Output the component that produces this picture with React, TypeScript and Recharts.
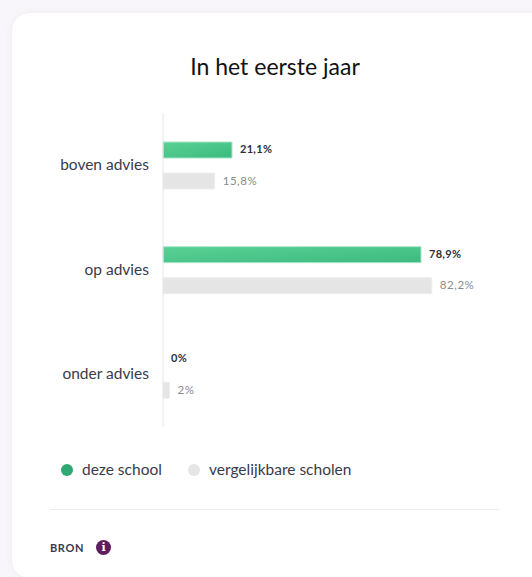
import React from "react";
import { BarChart, Bar, Cell, XAxis, YAxis, LabelList, Legend } from "recharts";

const categories = ["boven advies", "op advies", "onder advies"];
const dezeSchool = [21.1, 78.9, 0];
const vergelijkbareScholen = [15.8, 82.2, 2];
const seriesNames = ["deze school", "vergelijkbare scholen"];
const legendColors = ["#2fa971", "#e5e5e5"];
const title = "In het eerste jaar";
const sourceLabel = "BRON";

const data = categories.map((name, i) => ({
  name,
  school: dezeSchool[i],
  similar: vergelijkbareScholen[i],
}));

const FONT = "Lato, 'Open Sans', sans-serif";
const fmt = (v: number) => String(v).replace(".", ",") + "%";

const LegendContent = () => (
  <div style={{ position: "relative", width: 532, height: 24, fontFamily: FONT, fontSize: 15.5, color: "#3a3a4a" }}>
    {seriesNames.map((n, i) => (
      <React.Fragment key={n}>
        <span style={{ position: "absolute", left: i === 0 ? 61 : 188, top: 6, width: 12, height: 12, borderRadius: 6, background: legendColors[i] }} />
        <span style={{ position: "absolute", left: i === 0 ? 82 : 209, top: 1, lineHeight: "20px", whiteSpace: "nowrap" }}>{n}</span>
      </React.Fragment>
    ))}
  </div>
);

const makeLabel = (color: string, weight: number, size: number, spacing: number, dy: number) => (props: any) => {
  const { x, y, width, height, value } = props;
  return (
    <text x={x + width + 8} y={y + height / 2 + dy} fill={color} fontSize={size} fontWeight={weight} fontFamily={FONT} letterSpacing={spacing} dominantBaseline="central">
      {fmt(value)}
    </text>
  );
};

export default function App() {
  return (
    <div style={{ position: "absolute", left: 0, top: 0, width: 532, height: 577, overflow: "hidden", background: "#f8f6fa" }}>
      <div style={{ position: "absolute", left: 12, top: 13, width: 560, height: 565, background: "#fff", borderRadius: 18, boxShadow: "0 0 8px rgba(90,60,110,0.06)" }} />
      <div style={{ position: "absolute", left: 0, top: 52, width: 550, textAlign: "center", fontFamily: FONT, fontSize: 23, lineHeight: "28px", color: "#111" }}>{title}</div>
      <div style={{ position: "absolute", left: 50, top: 509, width: 449, height: 1, background: "#eeeaf0" }} />
      <div style={{ position: "absolute", left: 50, top: 540, fontFamily: FONT, fontSize: 11, fontWeight: 700, letterSpacing: 0.6, lineHeight: "16px", color: "#3a3a4a" }}>{sourceLabel}</div>
      <div style={{ position: "absolute", left: 96, top: 540, width: 15, height: 15, borderRadius: 8, background: "#5f1d5f", color: "#fff", fontFamily: "'DejaVu Serif', serif", fontWeight: 700, fontSize: 11, lineHeight: "15px", textAlign: "center" }}>i</div>
      <div style={{ position: "absolute", left: 0, top: 0 }}>
        <BarChart
          width={532}
          height={577}
          data={data}
          layout="vertical"
          barSize={16}
          barGap={15}
          margin={{ top: 89, right: 42, bottom: 150, left: 0 }}
        >
          <defs>
            <linearGradient id="greenBar" x1="0" y1="0" x2="1" y2="1">
              <stop offset="0%" stopColor="#5ad196" />
              <stop offset="100%" stopColor="#3dba7e" />
            </linearGradient>
          </defs>
          <XAxis type="number" domain={[0, 100]} hide />
          <YAxis
            type="category"
            dataKey="name"
            width={163}
            axisLine={{ stroke: "#e8e4ea", strokeWidth: 1 }}
            tickLine={false}
            tickSize={0}
            tickMargin={14}
            tick={{ fill: "#3a3a4a", fontSize: 15.5, fontFamily: FONT, dy: -1 }}
          />
          <Legend verticalAlign="top" content={<LegendContent />} wrapperStyle={{ position: "absolute", left: 0, top: 458, width: 532 }} />
          <Bar dataKey="school" name={seriesNames[0]} fill="url(#greenBar)" strokeWidth={1} minPointSize={(v: number) => (v === 0 ? 0.01 : 0)} isAnimationActive={false}>
            {dezeSchool.map((v, i) => (
              <Cell key={i} fill={v === 0 ? "none" : "url(#greenBar)"} stroke={v === 0 ? "none" : "#a9e6c8"} />
            ))}
            <LabelList dataKey="school" content={makeLabel("#2f2f3a", 700, 11, 0.3, -1.5)} />
          </Bar>
          <Bar dataKey="similar" name={seriesNames[1]} fill="#e5e5e5" stroke="#eeeeee" strokeWidth={1} isAnimationActive={false}>
            <LabelList dataKey="similar" content={makeLabel("#8a8a8a", 400, 11.5, 0.55, -1)} />
          </Bar>
        </BarChart>
      </div>
    </div>
  );
}
